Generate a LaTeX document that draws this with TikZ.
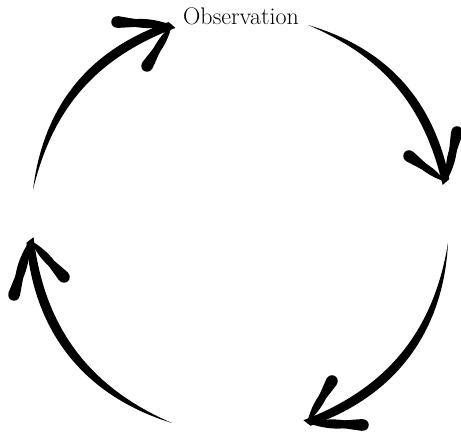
\documentclass[tikz,border=0pt]{standalone}
\usetikzlibrary{calc}
\tikzset{barb/.style={circle,fill,inner sep=0pt,minimum size=11.5pt}}
\begin{document}
\begin{tikzpicture}[x=1pt,y=1pt]
\useasboundingbox (0,0) rectangle (461,435);
\path node[anchor=base,font=\fontsize{24}{28}\selectfont] (obs) at (241,410) {Observation}
coordinate (t1) at (33,245)
coordinate (h1) at (172,410)
coordinate (t2) at (308,410)
coordinate (h2) at (446,253)
coordinate (t3) at (448,192)
coordinate (h3) at (307,12)
coordinate (t4) at (172,12)
coordinate (h4) at (30,195)
node[barb] (b1a) at (117,413) {}
node[barb] (b1b) at (147,369) {}
node[barb] (b2a) at (409,279) {}
node[barb] (b2b) at (457,303) {}
node[barb] (b3a) at (332,54) {}
node[barb] (b3b) at (363,10) {}
node[barb] (b4a) at (14,140) {}
node[barb] (b4b) at (64,158) {}
;
\fill (t1) to[bend left=32] ($(h1)!4.5pt!-90:(t1)$) -- ($(h1)!4.5pt!90:(t1)$) to[bend right=28] (t1) -- cycle;
\fill (t2) to[bend left=31] ($(h2)!4.5pt!-90:(t2)$) -- ($(h2)!4.5pt!90:(t2)$) to[bend right=27] (t2) -- cycle;
\fill (t3) to[bend left=34] ($(h3)!4.5pt!-90:(t3)$) -- ($(h3)!4.5pt!90:(t3)$) to[bend right=30] (t3) -- cycle;
\fill (t4) to[bend left=34] ($(h4)!4.5pt!-90:(t4)$) -- ($(h4)!4.5pt!90:(t4)$) to[bend right=30] (t4) -- cycle;
\fill (h1) -- (tangent cs:node=b1a,point={(h1)},solution=1) -- (tangent cs:node=b1a,point={(h1)},solution=2) -- cycle;
\fill (h1) -- (tangent cs:node=b1b,point={(h1)},solution=1) -- (tangent cs:node=b1b,point={(h1)},solution=2) -- cycle;
\fill (h2) -- (tangent cs:node=b2a,point={(h2)},solution=1) -- (tangent cs:node=b2a,point={(h2)},solution=2) -- cycle;
\fill (h2) -- (tangent cs:node=b2b,point={(h2)},solution=1) -- (tangent cs:node=b2b,point={(h2)},solution=2) -- cycle;
\fill (h3) -- (tangent cs:node=b3a,point={(h3)},solution=1) -- (tangent cs:node=b3a,point={(h3)},solution=2) -- cycle;
\fill (h3) -- (tangent cs:node=b3b,point={(h3)},solution=1) -- (tangent cs:node=b3b,point={(h3)},solution=2) -- cycle;
\fill (h4) -- (tangent cs:node=b4a,point={(h4)},solution=1) -- (tangent cs:node=b4a,point={(h4)},solution=2) -- cycle;
\fill (h4) -- (tangent cs:node=b4b,point={(h4)},solution=1) -- (tangent cs:node=b4b,point={(h4)},solution=2) -- cycle;
\fill (h1) to[bend left=16] (b1a.center) to[bend left=16] (h1);
\fill (h1) to[bend left=16] (b1b.center) to[bend left=16] (h1);
\fill (h2) to[bend left=16] (b2a.center) to[bend left=16] (h2);
\fill (h2) to[bend left=16] (b2b.center) to[bend left=16] (h2);
\fill (h3) to[bend left=16] (b3a.center) to[bend left=16] (h3);
\fill (h3) to[bend left=16] (b3b.center) to[bend left=16] (h3);
\fill (h4) to[bend left=16] (b4a.center) to[bend left=16] (h4);
\fill (h4) to[bend left=16] (b4b.center) to[bend left=16] (h4);
\end{tikzpicture}
\end{document}
